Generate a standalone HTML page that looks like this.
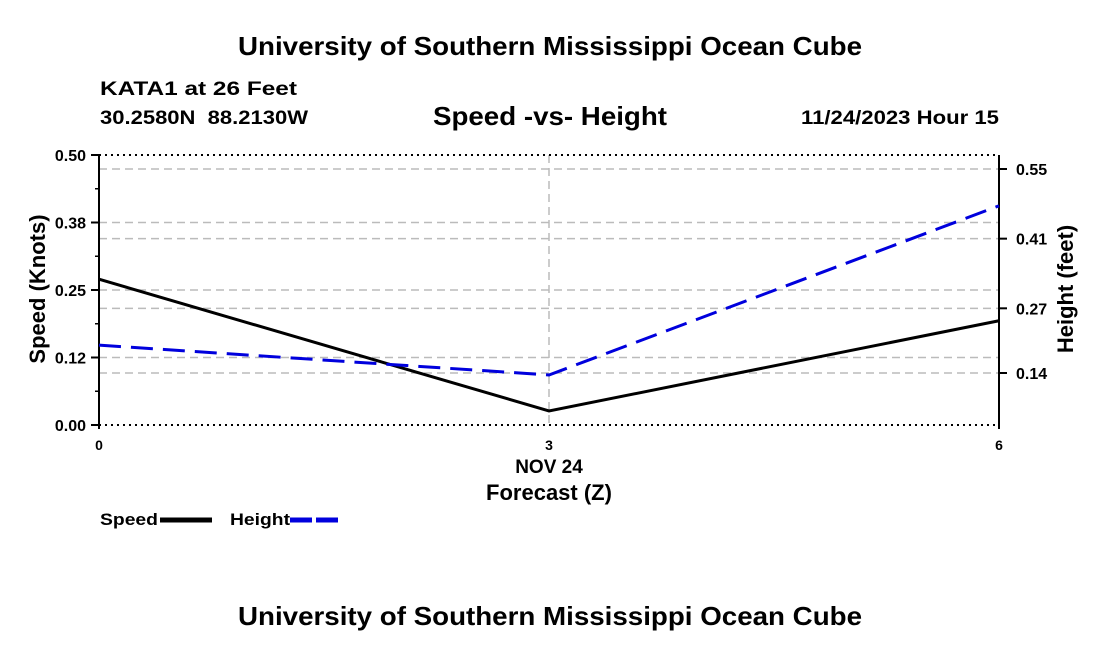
<!DOCTYPE html>
<html><head><meta charset="utf-8"><style>
body{margin:0;background:#fff;font-family:"Liberation Sans",sans-serif}
svg text{font-family:"Liberation Sans",sans-serif;font-weight:bold}
</style></head><body>
<svg id="c" width="1100" height="650">
<text x="238" y="55" font-size="26" textLength="624" lengthAdjust="spacingAndGlyphs">University of Southern Mississippi Ocean Cube</text>
<text x="100" y="95" font-size="19" textLength="197" lengthAdjust="spacingAndGlyphs">KATA1 at 26 Feet</text>
<text x="100" y="124" font-size="19" textLength="208" lengthAdjust="spacingAndGlyphs" xml:space="preserve">30.2580N  88.2130W</text>
<text x="433" y="125" font-size="26" textLength="234" lengthAdjust="spacingAndGlyphs">Speed -vs- Height</text>
<text x="801" y="124" font-size="19" textLength="198" lengthAdjust="spacingAndGlyphs">11/24/2023 Hour 15</text>
<text x="238" y="625" font-size="26" textLength="624" lengthAdjust="spacingAndGlyphs">University of Southern Mississippi Ocean Cube</text>
<g id="plot"></g>
</svg>
<script>
const xCats=[0,3,6];
const speed=[0.270,0.026,0.193];
const height=[0.196,0.136,0.476];
const leftTicks=[0,0.125,0.25,0.375,0.5];
const leftLabels=["0.00","0.12","0.25","0.38","0.50"];
const rightTicks=[0.14,0.27,0.41,0.55];
const rightLabels=["0.14","0.27","0.41","0.55"];
const X0=99,X1=999,Y0=425,Y1=155;
const xs=v=>X0+(v-0)/(6-0)*(X1-X0);
const yl=v=>Y0-(v/0.5)*(Y0-Y1);
const yr=v=>373-(v-0.14)*(204/0.41);
const g=document.getElementById('plot');
const NS='http://www.w3.org/2000/svg';
function mk(t,a,txt){const e=document.createElementNS(NS,t);for(const k in a)e.setAttribute(k,a[k]);if(txt!=null)e.textContent=txt;g.appendChild(e);return e;}
let e;
leftTicks.forEach((v,i)=>{const y=yl(v);
 if(i>0&&i<leftTicks.length-1){e=mk('line',{x1:X0,x2:X1,y1:y,y2:y,stroke:'#bbb','stroke-dasharray':'8,5','stroke-width':1.5});
 }
 e=mk('line',{x1:X0-8,x2:X0,y1:y,y2:y,stroke:'#000','stroke-width':2});
 
 e=mk('text',{x:X0-13,y:y+6,'text-anchor':'end','font-size':16},leftLabels[i]);
 
});
for(let k=0;k<4;k++){const y=yl(0.0625+k*0.125);e=mk('line',{x1:X0-4,x2:X0,y1:y,y2:y,stroke:'#000','stroke-width':1.5});
 }
rightTicks.forEach((v,i)=>{const y=yr(v);
 e=mk('line',{x1:X0,x2:X1,y1:y,y2:y,stroke:'#bbb','stroke-dasharray':'8,5','stroke-width':1.5});
 
 e=mk('line',{x1:X1,x2:X1+8,y1:y,y2:y,stroke:'#000','stroke-width':2});
 
 e=mk('text',{x:X1+17,y:y+6,'font-size':16},rightLabels[i]);
 
});
e=mk('line',{x1:xs(3),x2:xs(3),y1:Y1,y2:Y0,stroke:'#bbb','stroke-dasharray':'8,5','stroke-width':1.5});

[Y1,Y0].forEach(y=>{e=mk('line',{x1:X0,x2:X1,y1:y,y2:y,stroke:'#000','stroke-dasharray':'2,4','stroke-width':2});
 });
e=mk('line',{x1:X0,x2:X0,y1:Y1,y2:Y0+4,stroke:'#000','stroke-width':2});

e=mk('line',{x1:X1,x2:X1,y1:Y1,y2:Y0+4,stroke:'#000','stroke-width':2});

xCats.forEach(v=>{e=mk('text',{x:xs(v),y:Y0+25,'text-anchor':'middle','font-size':14,'font-weight':'normal'},String(v));
 });
e=mk('text',{x:xs(3),y:473,'text-anchor':'middle','font-size':19},'NOV 24');

e=mk('text',{x:xs(3),y:500,'text-anchor':'middle','font-size':22},'Forecast (Z)');

e=mk('text',{x:45,y:289,'text-anchor':'middle','font-size':22,transform:'rotate(-90 45 289)'},'Speed (Knots)');

e=mk('text',{x:1073,y:289,'text-anchor':'middle','font-size':22,transform:'rotate(-90 1073 289)'},'Height (feet)');

e=mk('polyline',{points:xCats.map((v,i)=>xs(v)+','+yl(speed[i])).join(' '),fill:'none',stroke:'#000','stroke-width':3});

e=mk('polyline',{points:xCats.map((v,i)=>xs(v)+','+yr(height[i])).join(' '),fill:'none',stroke:'#0000dd','stroke-width':3,'stroke-dasharray':'22,10'});

e=mk('text',{x:100,y:525,'font-size':17,textLength:58,lengthAdjust:'spacingAndGlyphs'},'Speed');

e=mk('line',{x1:160,x2:212,y1:520,y2:520,stroke:'#000','stroke-width':5});

e=mk('text',{x:230,y:525,'font-size':17,textLength:60,lengthAdjust:'spacingAndGlyphs'},'Height');

e=mk('line',{x1:290,x2:342,y1:520,y2:520,stroke:'#0000dd','stroke-width':5,'stroke-dasharray':'22,4'});

</script>
</body></html>
